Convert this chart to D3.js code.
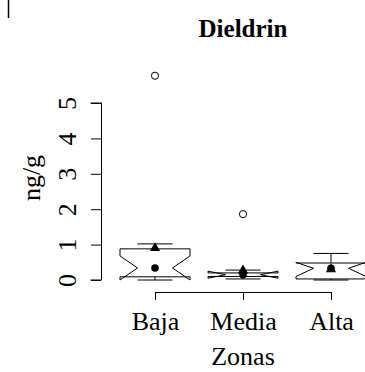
<!DOCTYPE html>
<html>
<head>
<meta charset="utf-8">
<script src="https://cdn.jsdelivr.net/npm/d3@7"></script>
<style>
  body { margin: 0; background: #fff; }
  svg { display: block; }
  text { font-family: "Liberation Serif", "DejaVu Serif", serif; fill: #000; }
</style>
</head>
<body>
<svg width="365" height="372"></svg>
<script>
// data
const zonas = ['Baja', 'Media', 'Alta'];
const q1 = [0.09, 0.10, 0.03];
const med = [0.34, 0.15, 0.33];
const q3 = [0.88, 0.20, 0.48];
const whiskLo = [0.0, 0.03, 0.0];
const whiskHi = [1.02, 0.28, 0.75];
const notchLo = [0.0, 0.05, 0.10];
const notchHi = [0.68, 0.25, 0.50];
const medias = [0.90, 0.27, 0.30];
const outliers = [[5.77], [1.86], []];
const yTicks = [0, 1, 2, 3, 4, 5];

const svg = d3.select('svg');

const x = d3.scalePoint()
            .domain(zonas)
            .range([155, 331]);
const y = d3.scaleLinear()
            .domain([0, 5])
            .range([280, 103]);

const hw = 35;       // half box width
const nw = hw / 2;   // notch inset
const sw = hw / 2;   // staple half width
const fs = 26;

// little mark in the top-left corner
svg.append('line')
   .attr('x1', 8.5).attr('x2', 8.5)
   .attr('y1', 0).attr('y2', 18)
   .attr('stroke', '#000').attr('stroke-width', 1.5);

// title
svg.append('text')
   .attr('x', 243).attr('y', 37)
   .attr('text-anchor', 'middle')
   .attr('font-weight', 'bold')
   .attr('font-size', 25)
   .text('Dieldrin');

// y axis
const yAxis = svg.append('g').attr('transform', 'translate(101,0)');
yAxis.call(d3.axisLeft(y).tickValues(yTicks).tickSize(10).tickFormat(d3.format('d')));
yAxis.select('.domain').attr('d', `M-10.5,${y(5)}H0.5V${y(0)}H-10.5`).attr('stroke', '#000');
yAxis.selectAll('.tick line').attr('stroke', '#000');
yAxis.selectAll('.tick text')
     .attr('x', 0).attr('y', 0)
     .attr('dy', null)
     .attr('font-size', fs)
     .attr('font-family', '"Liberation Serif", serif')
     .attr('text-anchor', 'middle')
     .attr('transform', 'translate(-25,0) rotate(-90)');

svg.append('text')
   .attr('transform', 'translate(40,178) rotate(-90)')
   .attr('text-anchor', 'middle')
   .attr('font-size', fs)
   .text('ng/g');

// x axis
const xAxis = svg.append('g').attr('transform', 'translate(0,292)');
xAxis.call(d3.axisBottom(x).tickSize(8).tickSizeOuter(8));
xAxis.select('.domain').attr('stroke', '#000');
xAxis.selectAll('.tick line').attr('stroke', '#000');
xAxis.selectAll('.tick text')
     .attr('y', 38).attr('dy', null)
     .attr('font-size', fs)
     .attr('font-family', '"Liberation Serif", serif');

svg.append('text')
   .attr('x', 243).attr('y', 365)
   .attr('text-anchor', 'middle')
   .attr('font-size', fs)
   .text('Zonas');

// boxes
const boxes = svg.append('g');
zonas.forEach((z, i) => {
  const cx = x(z);
  const g = boxes.append('g');
  // whiskers
  g.append('line')
   .attr('x1', cx).attr('x2', cx)
   .attr('y1', y(q3[i])).attr('y2', y(whiskHi[i]))
   .attr('stroke', '#000');
  g.append('line')
   .attr('x1', cx).attr('x2', cx)
   .attr('y1', y(q1[i])).attr('y2', y(whiskLo[i]))
   .attr('stroke', '#000');
  [whiskLo[i], whiskHi[i]].forEach(v => {
    g.append('line')
     .attr('x1', cx - sw).attr('x2', cx + sw)
     .attr('y1', y(v)).attr('y2', y(v))
     .attr('stroke', '#000');
  });
  // notched box, R style
  const pts = [
    [cx - hw, y(q1[i])], [cx - hw, y(notchLo[i])], [cx - nw, y(med[i])],
    [cx - hw, y(notchHi[i])], [cx - hw, y(q3[i])], [cx + hw, y(q3[i])],
    [cx + hw, y(notchHi[i])], [cx + nw, y(med[i])], [cx + hw, y(notchLo[i])],
    [cx + hw, y(q1[i])]
  ];
  g.append('polygon')
   .attr('points', pts.map(p => p.join(',')).join(' '))
   .attr('fill', '#fff')
   .attr('stroke', '#000');
  // median dot
  g.append('circle')
   .attr('cx', cx).attr('cy', y(med[i]))
   .attr('r', 3.8)
   .attr('fill', '#000');
  // mean triangle
  g.append('path')
   .attr('d', d3.symbol(d3.symbolTriangle, 45)())
   .attr('transform', `translate(${cx},${y(medias[i])})`)
   .attr('fill', '#000');
  // outliers
  outliers[i].forEach(v => {
    g.append('circle')
     .attr('cx', cx).attr('cy', y(v))
     .attr('r', 3.6)
     .attr('fill', 'none')
     .attr('stroke', '#000');
  });
});
</script>
</body>
</html>
